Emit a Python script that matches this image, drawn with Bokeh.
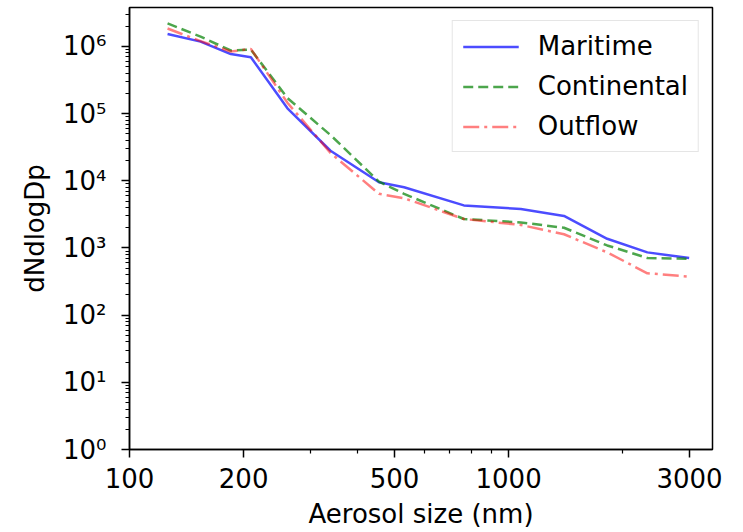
from bokeh.plotting import figure
from bokeh.models import Range1d, FixedTicker, CustomJSTickFormatter, Legend, LegendItem
from bokeh.embed import file_html
from bokeh.resources import INLINE

size_nm = [126, 154, 185, 209, 261, 339, 455, 530, 762, 1077, 1400, 1820, 2323, 2994]
maritime = [1.53e6, 1.18e6, 7.7e5, 6.9e5, 1.2e5, 2.8e4, 9.5e3, 8.0e3, 4.3e3, 3.8e3, 3.0e3, 1.37e3, 8.6e2, 7.1e2]
continental = [2.2e6, 1.4e6, 8.7e5, 9.0e5, 1.7e5, 4.8e4, 9.7e3, 6.4e3, 2.7e3, 2.4e3, 2.0e3, 1.09e3, 7.1e2, 6.9e2]
outflow = [1.85e6, 1.2e6, 8.4e5, 9.2e5, 1.45e5, 2.6e4, 6.4e3, 5.5e3, 2.7e3, 2.2e3, 1.6e3, 8.6e2, 4.2e2, 3.75e2]

x_major = [100, 200, 500, 1000, 3000]
x_minor = [300, 400, 600, 700, 800, 900, 2000]
y_major = [10.0 ** k for k in range(0, 7)]
y_minor = [m * 10.0 ** k for k in range(0, 7) for m in range(2, 10)]

FONT = "DejaVu Sans"
FS = "26px"

p = figure(width=743, height=532, x_axis_type="log", y_axis_type="log",
           x_range=Range1d(100, 3450), y_range=Range1d(1, 3.8e6),
           output_backend="svg", toolbar_location=None,
           min_border_left=129, min_border_right=31, min_border_top=7, min_border_bottom=83)
p.background_fill_color = "white"
p.border_fill_color = "white"
p.outline_line_color = "black"
p.outline_line_width = 1.5
p.xgrid.visible = False
p.ygrid.visible = False

r1 = p.line(size_nm, maritime, line_color="blue", line_alpha=0.7, line_width=2.5)
r2 = p.line(size_nm, continental, line_color="green", line_alpha=0.7, line_width=2.5, line_dash="10 5")
r3 = p.line(size_nm, outflow, line_color="red", line_alpha=0.5, line_width=2.5, line_dash="16 5 3 5")

for ax in (p.xaxis[0], p.yaxis[0]):
    ax.axis_line_color = "black"
    ax.axis_line_width = 1.5
    ax.major_tick_line_color = "black"
    ax.minor_tick_line_color = "black"
    ax.major_tick_line_width = 1.5
    ax.minor_tick_line_width = 1.2
    ax.major_tick_out = 8
    ax.major_tick_in = 0
    ax.minor_tick_out = 4
    ax.minor_tick_in = 0
    ax.major_label_text_font = FONT
    ax.major_label_text_font_size = FS
    ax.major_label_text_color = "black"
    ax.axis_label_text_font = FONT
    ax.axis_label_text_font_size = FS
    ax.axis_label_text_font_style = "normal"
    ax.axis_label_text_color = "black"

p.xaxis[0].ticker = FixedTicker(ticks=x_major, minor_ticks=x_minor)
p.xaxis[0].formatter = CustomJSTickFormatter(code="return tick.toFixed(0);")
p.xaxis[0].axis_label = "Aerosol size (nm)"
p.xaxis[0].major_label_standoff = 10
p.xaxis[0].axis_label_standoff = 8

p.yaxis[0].ticker = FixedTicker(ticks=y_major, minor_ticks=y_minor)
p.yaxis[0].formatter = CustomJSTickFormatter(code="""
const sup = {'0':'\u2070','1':'\u00b9','2':'\u00b2','3':'\u00b3','4':'\u2074','5':'\u2075','6':'\u2076','7':'\u2077','8':'\u2078','9':'\u2079','-':'\u207b'};
const e = Math.round(Math.log10(tick)).toString();
let s = '';
for (const c of e) { s += sup[c]; }
return '10' + s;
""")
p.yaxis[0].axis_label = "dNdlogDp"
p.yaxis[0].major_label_standoff = 15
p.yaxis[0].axis_label_standoff = 10

legend = Legend(items=[LegendItem(label="Maritime", renderers=[r1]),
                       LegendItem(label="Continental", renderers=[r2]),
                       LegendItem(label="Outflow", renderers=[r3])],
                location="top_right")
legend.label_text_font = FONT
legend.label_text_font_size = FS
legend.label_text_color = "black"
legend.glyph_width = 56
legend.glyph_height = 25
legend.label_height = 25
legend.label_standoff = 19
legend.spacing = 10
legend.padding = 10
legend.margin = 13
legend.border_line_color = "#cccccc"
legend.border_line_width = 1.2
legend.background_fill_alpha = 0.8
p.add_layout(legend)

with open("out.html", "w", encoding="utf-8") as f:
    f.write(file_html(p, INLINE))
